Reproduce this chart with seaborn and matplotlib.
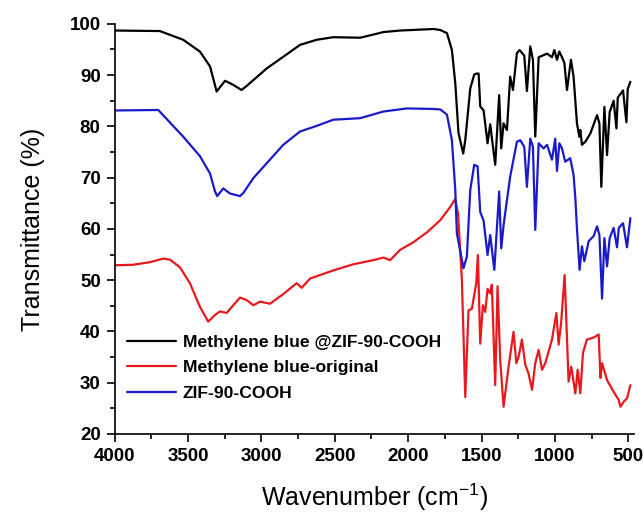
import numpy as np
import pandas as pd
import matplotlib
matplotlib.use("Agg")
import matplotlib.pyplot as plt
import seaborn as sns
from matplotlib.ticker import MultipleLocator

# du lieu doc tu hinh (FTIR)
bk_x = [4000, 3692, 3533, 3419, 3350, 3305, 3248, 3192, 3135, 3100, 2964, 2850, 2737, 2623, 2510, 2327, 2168, 2055, 1827, 1781,
        1736, 1702, 1679, 1657, 1625, 1611, 1577, 1550, 1536, 1520, 1509, 1486, 1459, 1441, 1407, 1380, 1366, 1350, 1327, 1305,
        1286, 1259, 1241, 1209, 1191, 1168, 1150, 1134, 1111, 1077, 1054, 1020, 1004, 986, 970, 952, 936, 918, 891, 873,
        850, 834, 827, 816, 793, 759, 713, 697, 684, 663, 645, 627, 600, 581, 572, 536, 513, 504, 486]
bk_y = [98.7, 98.6, 96.9, 94.6, 91.7, 86.8, 88.9, 88.1, 87.1, 87.9, 91.3, 93.6, 95.9, 96.9, 97.4, 97.3, 98.4, 98.7, 99.0, 98.8,
        98.2, 94.9, 88.4, 78.7, 74.7, 77.3, 87.4, 90.1, 90.3, 90.3, 83.9, 83.1, 76.7, 80.4, 72.5, 86.1, 75.7, 80.6, 79.3, 89.7,
        87.1, 94.3, 94.9, 93.8, 86.9, 95.6, 93.0, 78.0, 93.5, 93.9, 94.2, 93.5, 94.9, 93.0, 94.6, 93.5, 92.4, 87.1, 93.0, 89.7,
        80.6, 78.0, 79.3, 76.4, 77.0, 78.6, 82.2, 80.6, 68.2, 83.8, 74.4, 82.8, 85.0, 79.6, 85.6, 87.0, 80.8, 87.3, 88.7]

rd_x = [4000, 3874, 3760, 3669, 3623, 3555, 3487, 3419, 3362, 3316, 3282, 3237, 3146, 3100, 3055, 3010, 2941, 2850, 2760, 2725,
        2669, 2510, 2373, 2237, 2168, 2123, 2055, 1964, 1873, 1781, 1713, 1680, 1660, 1634, 1611, 1589, 1566, 1536, 1525, 1509,
        1491, 1475, 1459, 1441, 1430, 1407, 1391, 1373, 1350, 1316, 1282, 1263, 1247, 1225, 1202, 1180, 1156, 1134, 1111, 1088,
        1066, 1020, 990, 975, 958, 934, 907, 889, 873, 861, 845, 827, 809, 782, 736, 702, 690, 679, 645, 600,
        565, 554, 531, 509, 486]
rd_y = [52.9, 53.0, 53.5, 54.2, 54.0, 52.5, 49.4, 44.8, 41.9, 43.2, 43.9, 43.6, 46.6, 46.1, 45.1, 45.8, 45.4, 47.3, 49.4, 48.5,
        50.3, 51.9, 53.1, 53.9, 54.4, 53.9, 55.9, 57.4, 59.3, 61.7, 64.3, 65.8, 63.0, 50.0, 27.2, 44.1, 44.4, 49.4, 54.9, 37.6,
        45.1, 43.8, 48.3, 47.4, 49.1, 29.5, 48.8, 34.4, 25.3, 33.1, 39.9, 33.8, 35.1, 38.4, 33.5, 31.8, 28.6, 33.8, 36.4, 32.5,
        33.8, 38.4, 43.6, 37.4, 41.6, 51.0, 30.2, 33.1, 30.2, 27.9, 32.5, 27.9, 35.8, 38.4, 38.8, 39.4, 30.9, 33.8, 30.5, 28.2,
        26.6, 25.3, 26.3, 26.9, 29.5]

bl_x = [4000, 3703, 3533, 3419, 3350, 3316, 3301, 3260, 3214, 3146, 3123, 3055, 2964, 2851, 2737, 2623, 2510, 2327, 2168, 2009,
        1827, 1781, 1736, 1702, 1679, 1668, 1623, 1600, 1577, 1550, 1527, 1509, 1486, 1459, 1441, 1413, 1380, 1366, 1350, 1327,
        1305, 1259, 1236, 1209, 1191, 1168, 1150, 1134, 1111, 1077, 1054, 1020, 998, 986, 970, 952, 930, 896, 873, 861,
        850, 832, 816, 800, 770, 736, 713, 697, 679, 663, 645, 627, 600, 577, 565, 536, 509, 486]
bl_y = [83.1, 83.2, 78.0, 74.2, 70.8, 67.3, 66.4, 67.9, 66.9, 66.4, 67.0, 69.9, 72.8, 76.4, 79.0, 80.1, 81.3, 81.6, 82.9, 83.5,
        83.4, 83.3, 82.3, 77.3, 67.6, 59.1, 52.3, 54.6, 67.6, 72.5, 72.2, 63.3, 61.6, 54.9, 58.8, 52.0, 67.3, 56.2, 60.7, 65.6,
        70.2, 77.0, 77.3, 76.0, 68.2, 77.6, 76.0, 59.8, 76.7, 75.7, 76.4, 73.5, 77.6, 71.3, 76.7, 75.7, 73.1, 73.8, 70.5, 66.0,
        60.1, 52.0, 56.6, 53.7, 57.6, 58.6, 60.5, 58.8, 46.4, 58.2, 52.7, 58.2, 60.2, 56.4, 60.2, 61.1, 56.4, 62.1]

labels = ['Methylene blue @ZIF-90-COOH', 'Methylene blue-original', 'ZIF-90-COOH']
colors = ['black', '#e8191c', '#1a1ac8']

sns.set_style("ticks")
plt.rcParams['font.family'] = ['Liberation Sans', 'DejaVu Sans']
plt.rcParams['mathtext.default'] = 'regular'
plt.rcParams['text.color'] = 'black'
plt.rcParams['axes.labelcolor'] = 'black'
plt.rcParams['xtick.color'] = 'black'
plt.rcParams['ytick.color'] = 'black'

fig = plt.figure(figsize=(6.44, 5.19), dpi=100)
ax = fig.add_axes([0.178, 0.164, 0.807, 0.79])

for xs, ys, lab, c in zip([bk_x, rd_x, bl_x], [bk_y, rd_y, bl_y], labels, colors):
    sns.lineplot(x=xs, y=ys, ax=ax, color=c, lw=1.6, label=lab, estimator=None, sort=False)

ax.set_xlim(4000, 459)
ax.set_ylim(20, 100)
ax.xaxis.set_major_locator(MultipleLocator(500))
ax.xaxis.set_minor_locator(MultipleLocator(250))
ax.yaxis.set_major_locator(MultipleLocator(10))
ax.yaxis.set_minor_locator(MultipleLocator(5))
ax.tick_params(which='major', direction='out', length=6, width=1.2, labelsize=13.5, pad=4)
ax.tick_params(which='minor', direction='out', length=3.5, width=1.2)
for lbl in ax.get_xticklabels() + ax.get_yticklabels():
    lbl.set_fontweight('bold')
sns.despine(ax=ax)
for s in ['left', 'bottom']:
    ax.spines[s].set_linewidth(1.2)
    ax.spines[s].set_color('black')

ax.set_xlabel('Wavenumber (cm$^{-1}$)', fontsize=18, labelpad=12)
ax.set_ylabel('Transmittance (%)', fontsize=18, labelpad=18)

ax.legend(loc='lower left', bbox_to_anchor=(0.0, 0.05), frameon=False,
          prop={'weight': 'bold', 'size': 12.6}, handlelength=2.8,
          handletextpad=0.4, labelspacing=0.6, borderaxespad=0.3)

fig.savefig('out.png', dpi=100)
